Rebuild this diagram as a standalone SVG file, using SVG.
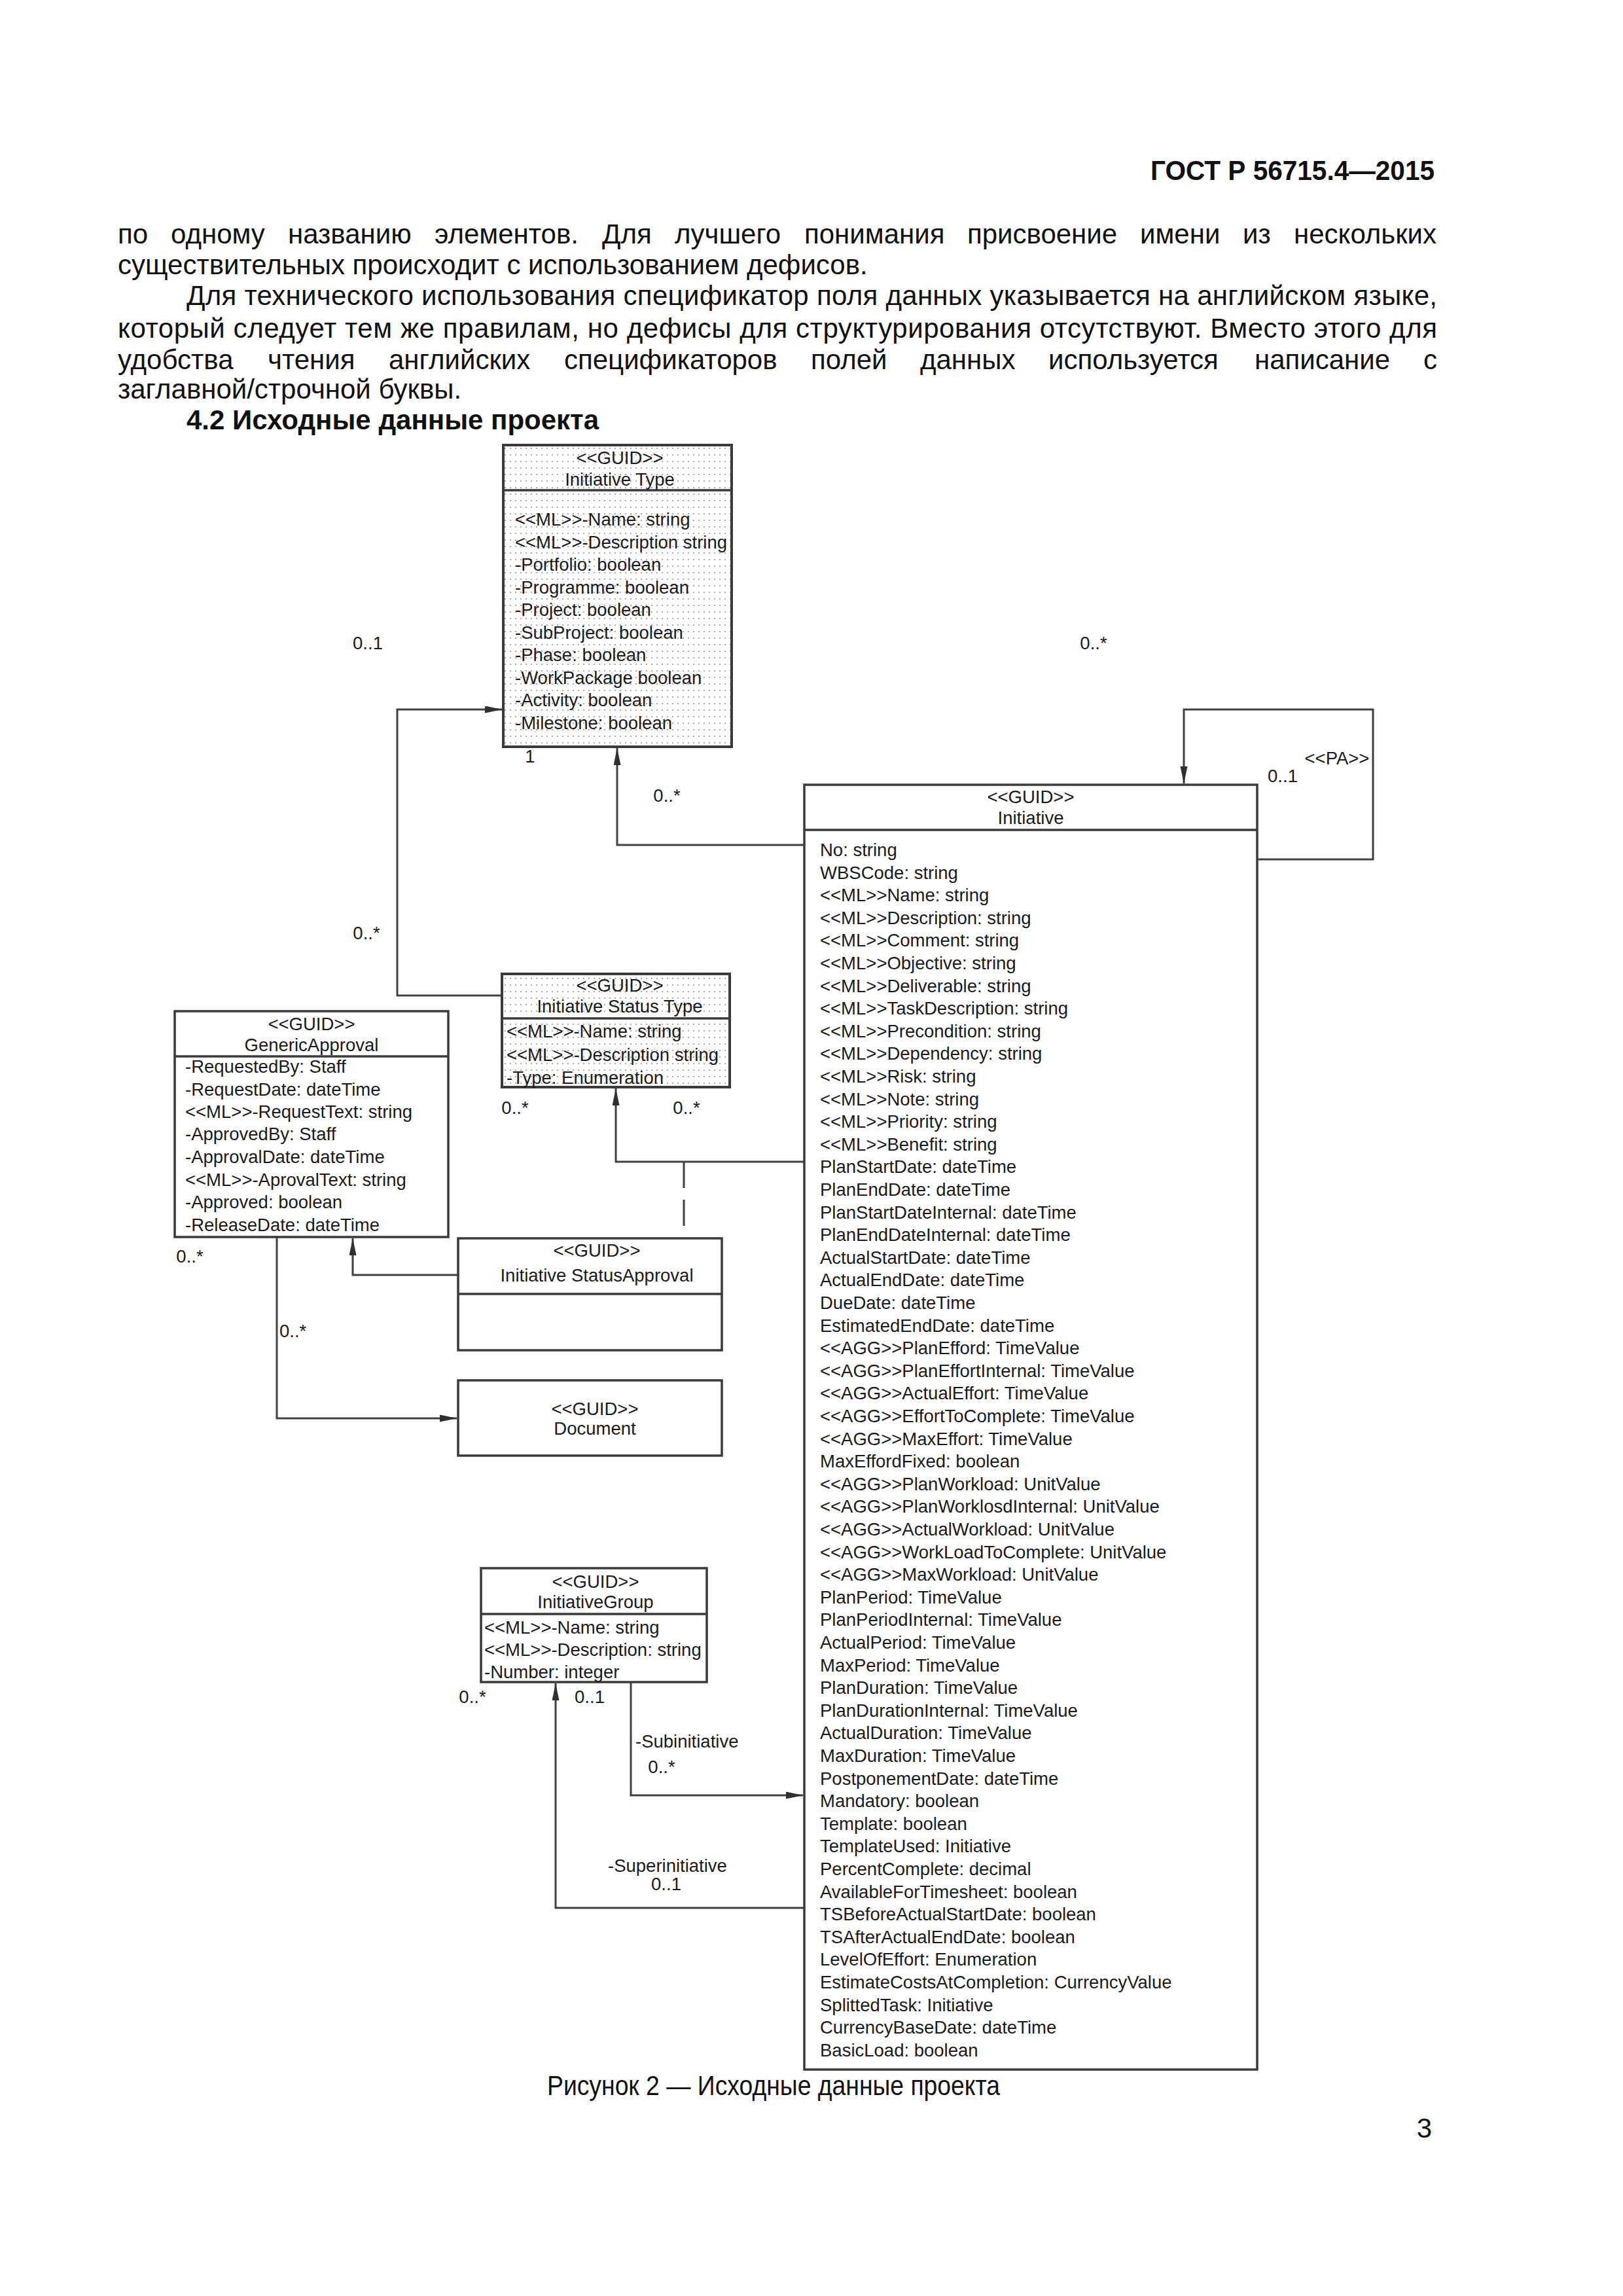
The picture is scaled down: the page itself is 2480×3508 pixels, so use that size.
<svg xmlns="http://www.w3.org/2000/svg" width="2480" height="3508" viewBox="0 0 2480 3508">
<style>
.body{font-family:"Liberation Sans",Arial,sans-serif;font-size:42px;fill:#111}
.bold{font-weight:bold}
.t{font-family:"Liberation Sans",Arial,sans-serif;font-size:27.5px;fill:#1a1a1a}
.c{text-anchor:middle}
.box{fill:#fff;stroke:#3a3a3a;stroke-width:3.5}
.dot{fill:url(#dots);stroke:#3a3a3a;stroke-width:4}
.div{stroke:#3a3a3a;stroke-width:3.5}
.con{fill:none;stroke:#404040;stroke-width:3}
.dash{fill:none;stroke:#404040;stroke-width:3;stroke-dasharray:40 18}
</style>
<defs>
<pattern id="dots" width="8" height="10" patternUnits="userSpaceOnUse">
<rect width="8" height="10" fill="#fff"/>
<rect x="3" y="4" width="2" height="2" fill="#a8a8a8"/>
</pattern>
<marker id="arr" markerUnits="userSpaceOnUse" markerWidth="28" markerHeight="12" refX="26" refY="5.5" orient="auto">
<path d="M0,0 L26,5.5 L0,11 z" fill="#303030"/>
</marker>
</defs>
<rect width="2480" height="3508" fill="#fff"/>

<g id="page-text">
<text class="body bold" x="1758" y="275" font-size="41" textLength="434" lengthAdjust="spacingAndGlyphs">ГОСТ Р 56715.4—2015</text>
<text class="body" y="372"><tspan x="180">по</tspan><tspan x="261">одному</tspan><tspan x="440">названию</tspan><tspan x="664">элементов.</tspan><tspan x="920">Для</tspan><tspan x="1031">лучшего</tspan><tspan x="1229">понимания</tspan><tspan x="1478">присвоение</tspan><tspan x="1742">имени</tspan><tspan x="1899">из</tspan><tspan x="1977">нескольких</tspan></text>
<text class="body" x="180" y="419">существительных происходит с использованием дефисов.</text>
<text class="body" x="285" y="466" textLength="1911" lengthAdjust="spacing">Для технического использования спецификатор поля данных указывается на английском языке,</text>
<text class="body" x="180" y="516" textLength="2016" lengthAdjust="spacing">который следует тем же правилам, но дефисы для структурирования отсутствуют. Вместо этого для</text>
<text class="body" y="564"><tspan x="180">удобства</tspan><tspan x="409">чтения</tspan><tspan x="594">английских</tspan><tspan x="862">спецификаторов</tspan><tspan x="1239">полей</tspan><tspan x="1406">данных</tspan><tspan x="1602">используется</tspan><tspan x="1917">написание</tspan><tspan x="2175">с</tspan></text>
<text class="body" x="180" y="609">заглавной/строчной буквы.</text>
<text class="body bold" x="285" y="656">4.2 Исходные данные проекта</text>
<text class="body" x="836" y="3201" font-size="37" textLength="692" lengthAdjust="spacingAndGlyphs">Рисунок 2 — Исходные данные проекта</text>
<text class="body" x="2188" y="3266" text-anchor="end">3</text>
</g>

<g id="connectors">
<path class="con" d="M1229,1291 H943 V1143" marker-end="url(#arr)"/>
<path class="con" d="M767,1521 H607 V1084 H767" marker-end="url(#arr)"/>
<path class="con" d="M1229,1775 H941 V1663" marker-end="url(#arr)"/>
<path class="dash" d="M1045,1775 V1892"/>
<path class="con" d="M700,1948 H539 V1892" marker-end="url(#arr)"/>
<path class="con" d="M423,1890 V2167 H698" marker-end="url(#arr)"/>
<path class="con" d="M1921,1313 H2098 V1084 H1809 V1197" marker-end="url(#arr)"/>
<path class="con" d="M964,2570 V2743 H1227" marker-end="url(#arr)"/>
<path class="con" d="M1229,2915 H849 V2572" marker-end="url(#arr)"/>
<g class="t">
<text class="c" x="562" y="992">0..1</text>
<text class="c" x="1671" y="992">0..*</text>
<text class="c" x="810" y="1165">1</text>
<text class="c" x="1019" y="1225">0..*</text>
<text class="c" x="2043" y="1168">&lt;&lt;PA&gt;&gt;</text>
<text class="c" x="1960" y="1195">0..1</text>
<text class="c" x="560" y="1435">0..*</text>
<text class="c" x="787" y="1702">0..*</text>
<text class="c" x="1049" y="1702">0..*</text>
<text class="c" x="290" y="1929">0..*</text>
<text x="427" y="2043">0..*</text>
<text class="c" x="722" y="2602">0..*</text>
<text class="c" x="901" y="2602">0..1</text>
<text x="971" y="2670">-Subinitiative</text>
<text class="c" x="1011" y="2709">0..*</text>
<text x="929" y="2860">-Superinitiative</text>
<text class="c" x="1018" y="2888">0..1</text>
</g>
</g>

<g id="InitiativeType">
<rect class="dot" x="769" y="680" width="349" height="461"/>
<line class="div" x1="769" y1="749" x2="1118" y2="749"/>
<g class="t">
<text class="c" x="947" y="709">&lt;&lt;GUID&gt;&gt;</text>
<text class="c" x="947" y="742">Initiative Type</text>
<text x="787" y="803">&lt;&lt;ML&gt;&gt;-Name: string</text>
<text x="787" y="837.5">&lt;&lt;ML&gt;&gt;-Description string</text>
<text x="787" y="872">-Portfolio: boolean</text>
<text x="787" y="906.5">-Programme: boolean</text>
<text x="787" y="941">-Project: boolean</text>
<text x="787" y="975.5">-SubProject: boolean</text>
<text x="787" y="1010">-Phase: boolean</text>
<text x="787" y="1044.5">-WorkPackage boolean</text>
<text x="787" y="1079">-Activity: boolean</text>
<text x="787" y="1113.5">-Milestone: boolean</text>
</g>
</g>

<g id="InitiativeStatusType">
<rect class="dot" x="767" y="1488" width="348" height="173"/>
<line class="div" x1="767" y1="1556" x2="1115" y2="1556"/>
<g class="t">
<text class="c" x="947" y="1515">&lt;&lt;GUID&gt;&gt;</text>
<text class="c" x="947" y="1547">Initiative Status Type</text>
<text x="774" y="1585">&lt;&lt;ML&gt;&gt;-Name: string</text>
<text x="774" y="1621">&lt;&lt;ML&gt;&gt;-Description string</text>
<text x="774" y="1656">-Type: Enumeration</text>
</g>
</g>

<g id="GenericApproval">
<rect class="box" x="267" y="1545" width="418" height="345"/>
<line class="div" x1="267" y1="1614" x2="685" y2="1614"/>
<g class="t">
<text class="c" x="476" y="1574">&lt;&lt;GUID&gt;&gt;</text>
<text class="c" x="476" y="1606">GenericApproval</text>
<text x="283" y="1639">-RequestedBy: Staff</text>
<text x="283" y="1674">-RequestDate: dateTime</text>
<text x="283" y="1708">&lt;&lt;ML&gt;&gt;-RequestText: string</text>
<text x="283" y="1742">-ApprovedBy: Staff</text>
<text x="283" y="1777">-ApprovalDate: dateTime</text>
<text x="283" y="1812">&lt;&lt;ML&gt;&gt;-AprovalText: string</text>
<text x="283" y="1846">-Approved: boolean</text>
<text x="283" y="1881">-ReleaseDate: dateTime</text>
</g>
</g>

<g id="InitiativeStatusApproval">
<rect class="box" x="700" y="1892" width="403" height="171"/>
<line class="div" x1="700" y1="1977" x2="1103" y2="1977"/>
<g class="t">
<text class="c" x="912" y="1920">&lt;&lt;GUID&gt;&gt;</text>
<text class="c" x="912" y="1958">Initiative StatusApproval</text>
</g>
</g>

<g id="Document">
<rect class="box" x="700" y="2109" width="403" height="115"/>
<g class="t">
<text class="c" x="909" y="2162">&lt;&lt;GUID&gt;&gt;</text>
<text class="c" x="909" y="2192">Document</text>
</g>
</g>

<g id="InitiativeGroup">
<rect class="box" x="735" y="2396" width="345" height="174"/>
<line class="div" x1="735" y1="2466" x2="1080" y2="2466"/>
<g class="t">
<text class="c" x="910" y="2426">&lt;&lt;GUID&gt;&gt;</text>
<text class="c" x="910" y="2457">InitiativeGroup</text>
<text x="740" y="2496">&lt;&lt;ML&gt;&gt;-Name: string</text>
<text x="740" y="2530">&lt;&lt;ML&gt;&gt;-Description: string</text>
<text x="740" y="2564">-Number: integer</text>
</g>
</g>

<g id="Initiative">
<rect class="box" x="1229" y="1199" width="692" height="1963"/>
<line class="div" x1="1229" y1="1268" x2="1921" y2="1268"/>
<g class="t">
<text class="c" x="1575" y="1227">&lt;&lt;GUID&gt;&gt;</text>
<text class="c" x="1575" y="1259">Initiative</text>
<text x="1253" y="1308">No: string</text>
<text x="1253" y="1342.6">WBSCode: string</text>
<text x="1253" y="1377.2">&lt;&lt;ML&gt;&gt;Name: string</text>
<text x="1253" y="1411.8">&lt;&lt;ML&gt;&gt;Description: string</text>
<text x="1253" y="1446.4">&lt;&lt;ML&gt;&gt;Comment: string</text>
<text x="1253" y="1481">&lt;&lt;ML&gt;&gt;Objective: string</text>
<text x="1253" y="1515.6">&lt;&lt;ML&gt;&gt;Deliverable: string</text>
<text x="1253" y="1550.2">&lt;&lt;ML&gt;&gt;TaskDescription: string</text>
<text x="1253" y="1584.8">&lt;&lt;ML&gt;&gt;Precondition: string</text>
<text x="1253" y="1619.4">&lt;&lt;ML&gt;&gt;Dependency: string</text>
<text x="1253" y="1654">&lt;&lt;ML&gt;&gt;Risk: string</text>
<text x="1253" y="1688.6">&lt;&lt;ML&gt;&gt;Note: string</text>
<text x="1253" y="1723.2">&lt;&lt;ML&gt;&gt;Priority: string</text>
<text x="1253" y="1757.8">&lt;&lt;ML&gt;&gt;Benefit: string</text>
<text x="1253" y="1792.4">PlanStartDate: dateTime</text>
<text x="1253" y="1827">PlanEndDate: dateTime</text>
<text x="1253" y="1861.6">PlanStartDateInternal: dateTime</text>
<text x="1253" y="1896.2">PlanEndDateInternal: dateTime</text>
<text x="1253" y="1930.8">ActualStartDate: dateTime</text>
<text x="1253" y="1965.4">ActualEndDate: dateTime</text>
<text x="1253" y="2000">DueDate: dateTime</text>
<text x="1253" y="2034.6">EstimatedEndDate: dateTime</text>
<text x="1253" y="2069.2">&lt;&lt;AGG&gt;&gt;PlanEfford: TimeValue</text>
<text x="1253" y="2103.8">&lt;&lt;AGG&gt;&gt;PlanEffortInternal: TimeValue</text>
<text x="1253" y="2138.4">&lt;&lt;AGG&gt;&gt;ActualEffort: TimeValue</text>
<text x="1253" y="2173">&lt;&lt;AGG&gt;&gt;EffortToComplete: TimeValue</text>
<text x="1253" y="2207.6">&lt;&lt;AGG&gt;&gt;MaxEffort: TimeValue</text>
<text x="1253" y="2242.2">MaxEffordFixed: boolean</text>
<text x="1253" y="2276.8">&lt;&lt;AGG&gt;&gt;PlanWorkload: UnitValue</text>
<text x="1253" y="2311.4">&lt;&lt;AGG&gt;&gt;PlanWorklosdInternal: UnitValue</text>
<text x="1253" y="2346">&lt;&lt;AGG&gt;&gt;ActualWorkload: UnitValue</text>
<text x="1253" y="2380.6">&lt;&lt;AGG&gt;&gt;WorkLoadToComplete: UnitValue</text>
<text x="1253" y="2415.2">&lt;&lt;AGG&gt;&gt;MaxWorkload: UnitValue</text>
<text x="1253" y="2449.8">PlanPeriod: TimeValue</text>
<text x="1253" y="2484.4">PlanPeriodInternal: TimeValue</text>
<text x="1253" y="2519">ActualPeriod: TimeValue</text>
<text x="1253" y="2553.6">MaxPeriod: TimeValue</text>
<text x="1253" y="2588.2">PlanDuration: TimeValue</text>
<text x="1253" y="2622.8">PlanDurationInternal: TimeValue</text>
<text x="1253" y="2657.4">ActualDuration: TimeValue</text>
<text x="1253" y="2692">MaxDuration: TimeValue</text>
<text x="1253" y="2726.6">PostponementDate: dateTime</text>
<text x="1253" y="2761.2">Mandatory: boolean</text>
<text x="1253" y="2795.8">Template: boolean</text>
<text x="1253" y="2830.4">TemplateUsed: Initiative</text>
<text x="1253" y="2865">PercentComplete: decimal</text>
<text x="1253" y="2899.6">AvailableForTimesheet: boolean</text>
<text x="1253" y="2934.2">TSBeforeActualStartDate: boolean</text>
<text x="1253" y="2968.8">TSAfterActualEndDate: boolean</text>
<text x="1253" y="3003.4">LevelOfEffort: Enumeration</text>
<text x="1253" y="3038">EstimateCostsAtCompletion: CurrencyValue</text>
<text x="1253" y="3072.6">SplittedTask: Initiative</text>
<text x="1253" y="3107.2">CurrencyBaseDate: dateTime</text>
<text x="1253" y="3141.8">BasicLoad: boolean</text>
</g>
</g>
</svg>
